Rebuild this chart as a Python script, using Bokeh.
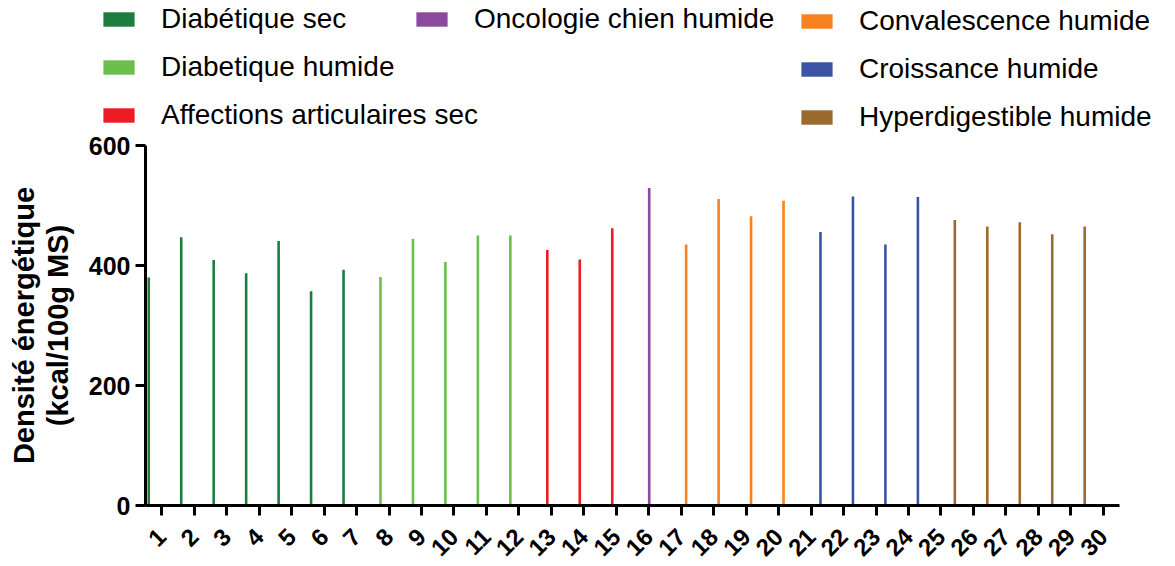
from math import pi
from bokeh.plotting import figure
from bokeh.layouts import column
from bokeh.models import (ColumnDataSource, FactorRange, Range1d, FixedTicker,
                          Legend, LegendItem)
from bokeh.transform import dodge
from bokeh.embed import file_html
from bokeh.resources import INLINE

# ---- data -------------------------------------------------------------
tick_labels = [str(i) for i in range(1, 31)]

series_names = ["Diabétique sec", "Diabetique humide", "Affections articulaires sec",
                "Oncologie chien humide", "Convalescence humide", "Croissance humide",
                "Hyperdigestible humide"]
series_colors = ["#1b7e3e", "#6cbf4a", "#ed1c24", "#8b4a9c", "#f7821f", "#3a53a4", "#9a6a2f"]

diab_sec_cats = ["1", "2", "3", "4", "5", "6", "7"]
diab_sec_vals = [380, 447, 409, 387, 441, 357, 393]
diab_hum_cats = ["8", "9", "10", "11", "12"]
diab_hum_vals = [381, 444, 406, 450, 450]
artic_sec_cats = ["13", "14", "15"]
artic_sec_vals = [426, 410, 462]
onco_hum_cats = ["16"]
onco_hum_vals = [529]
conv_hum_cats = ["17", "18", "19", "20"]
conv_hum_vals = [435, 511, 482, 508]
crois_hum_cats = ["21", "22", "23", "24"]
crois_hum_vals = [456, 515, 435, 514]
hyper_hum_cats = ["25", "26", "27", "28", "29"]
hyper_hum_vals = [476, 465, 472, 452, 465]

series_cats = [diab_sec_cats, diab_hum_cats, artic_sec_cats, onco_hum_cats,
               conv_hum_cats, crois_hum_cats, hyper_hum_cats]
series_vals = [diab_sec_vals, diab_hum_vals, artic_sec_vals, onco_hum_vals,
               conv_hum_vals, crois_hum_vals, hyper_hum_vals]

FONT = "Liberation Sans"
W = 1175
LEG_H = 132

# ---- legend strip ------------------------------------------------------
pl = figure(width=W, height=LEG_H, output_backend="svg", toolbar_location=None,
            x_axis_type=None, y_axis_type=None,
            x_range=Range1d(0, 1), y_range=Range1d(0, 1),
            min_border=0)
pl.frame_align = False
pl.outline_line_color = None
pl.xgrid.grid_line_color = None
pl.ygrid.grid_line_color = None

# zero-size carriers, only used to give each legend entry its colour swatch
leg_renderers = [pl.vbar(x=[0], top=[0], bottom=0, width=0, fill_color=c, line_color=None)
                 for c in series_colors]

def make_legend(idx, x, y):
    items = [LegendItem(label=series_names[k], renderers=[leg_renderers[k]]) for k in idx]
    lg = Legend(items=items, location=(x, y), orientation="vertical",
                glyph_width=39, glyph_height=18, label_height=20, spacing=16,
                label_standoff=23, padding=0, margin=0,
                border_line_color=None, background_fill_alpha=0,
                label_text_font=FONT, label_text_font_size="28px",
                label_text_color="black")
    pl.add_layout(lg)

make_legend([0, 1, 2], 99, 1)
make_legend([3], 412, 97)
make_legend([4, 5, 6], 797, -1)

# ---- main chart --------------------------------------------------------
p = figure(width=W, height=566 - LEG_H, output_backend="svg", toolbar_location=None,
           x_range=FactorRange(factors=tick_labels, range_padding=0),
           y_range=Range1d(0, 600),
           min_border_left=145, min_border_top=145 - LEG_H, min_border_right=56,
           min_border_bottom=58)
p.outline_line_color = None
p.xgrid.grid_line_color = None
p.ygrid.grid_line_color = None

n = len(series_names)
for i in range(n):
    src = ColumnDataSource(dict(cat=series_cats[i], val=series_vals[i]))
    off = -0.40 + 0.138 * i
    p.vbar(x=dodge("cat", off, range=p.x_range), top="val", bottom=0,
           width=0.08, source=src, fill_color=series_colors[i], line_color=None)

for ax in (p.xaxis[0], p.yaxis[0]):
    ax.axis_line_width = 3
    ax.axis_line_color = "black"
    ax.major_tick_line_width = 3
    ax.major_tick_line_color = "black"
    ax.major_tick_out = 10
    ax.major_tick_in = 0
    ax.minor_tick_line_color = None
    ax.major_label_text_font = FONT
    ax.major_label_text_font_style = "bold"
    ax.major_label_text_color = "black"

p.yaxis.ticker = FixedTicker(ticks=[0, 200, 400, 600])
p.yaxis.major_label_text_font_size = "25px"
p.yaxis.major_label_standoff = 5
p.yaxis.axis_label = "Densité énergétique\n(kcal/100g MS)"
p.yaxis.axis_label_text_font = FONT
p.yaxis.axis_label_text_font_style = "bold"
p.yaxis.axis_label_text_font_size = "29px"
p.yaxis.axis_label_text_line_height = 1.05
p.yaxis.axis_label_text_color = "black"
p.yaxis.axis_label_standoff = 12

p.xaxis.major_label_orientation = pi / 4
p.xaxis.major_label_text_font_size = "24px"
p.xaxis.major_label_standoff = 17

layout = column(pl, p, spacing=0)
open("out.html", "w").write(file_html(layout, INLINE))
